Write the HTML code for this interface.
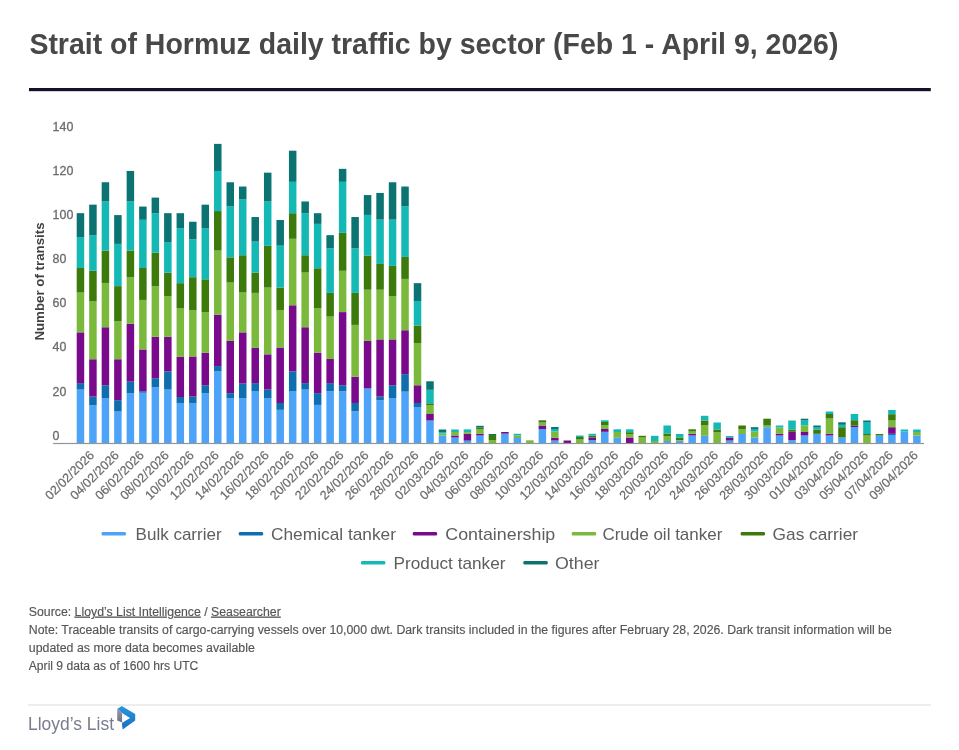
<!DOCTYPE html>
<html><head><meta charset="utf-8"><style>
html,body{margin:0;padding:0;background:#fff;}
body{width:959px;height:750px;position:relative;overflow:hidden;font-family:"Liberation Sans", sans-serif;}
svg{position:absolute;left:0;top:0;will-change:transform;}
text{font-family:"Liberation Sans", sans-serif;}
.title{font-size:29.5px;font-weight:bold;fill:#484848;}
.yl text{font-size:12.4px;fill:#6b6b6b;stroke:#6b6b6b;stroke-width:0.3px;}
.yt{font-size:13.3px;font-weight:bold;fill:#404040;text-anchor:middle;}
.xl text{font-size:12.6px;fill:#6b6b6b;stroke:#6b6b6b;stroke-width:0.2px;text-anchor:end;}
.lg text{font-size:17px;fill:#5e5e5e;}
.nt text{font-size:12px;fill:#555;stroke:#555;stroke-width:0.15px;}
.logo{font-size:19px;fill:#7a7c8e;}
</style></head><body>
<svg width="959" height="750" viewBox="0 0 959 750">
<text class="title" x="29.4" y="54.4" textLength="809" lengthAdjust="spacingAndGlyphs">Strait of Hormuz daily traffic by sector (Feb 1 - April 9, 2026)</text>
<rect x="29" y="88" width="901.8" height="3.2" fill="#12132b"/>
<g><rect x="76.70" y="389.53" width="7.5" height="53.47" fill="#4da3f7"/><rect x="76.70" y="383.13" width="7.5" height="6.40" fill="#0e6eae"/><rect x="76.70" y="332.36" width="7.5" height="50.77" fill="#7a0a8c"/><rect x="76.70" y="292.53" width="7.5" height="39.83" fill="#7bb93c"/><rect x="76.70" y="268.00" width="7.5" height="24.53" fill="#3b7a0b"/><rect x="76.70" y="237.07" width="7.5" height="30.93" fill="#14b9b5"/><rect x="76.70" y="213.17" width="7.5" height="23.89" fill="#0c7373"/><rect x="89.18" y="405.11" width="7.5" height="37.89" fill="#4da3f7"/><rect x="89.18" y="396.57" width="7.5" height="8.53" fill="#0e6eae"/><rect x="89.18" y="359.24" width="7.5" height="37.33" fill="#7a0a8c"/><rect x="89.18" y="301.43" width="7.5" height="57.81" fill="#7bb93c"/><rect x="89.18" y="270.77" width="7.5" height="30.65" fill="#3b7a0b"/><rect x="89.18" y="235.36" width="7.5" height="35.41" fill="#14b9b5"/><rect x="89.18" y="204.64" width="7.5" height="30.72" fill="#0c7373"/><rect x="101.67" y="398.07" width="7.5" height="44.93" fill="#4da3f7"/><rect x="101.67" y="385.27" width="7.5" height="12.80" fill="#0e6eae"/><rect x="101.67" y="327.24" width="7.5" height="58.03" fill="#7a0a8c"/><rect x="101.67" y="282.93" width="7.5" height="44.31" fill="#7bb93c"/><rect x="101.67" y="250.51" width="7.5" height="32.43" fill="#3b7a0b"/><rect x="101.67" y="201.44" width="7.5" height="49.07" fill="#14b9b5"/><rect x="101.67" y="182.24" width="7.5" height="19.20" fill="#0c7373"/><rect x="114.15" y="411.51" width="7.5" height="31.49" fill="#4da3f7"/><rect x="114.15" y="400.20" width="7.5" height="11.31" fill="#0e6eae"/><rect x="114.15" y="359.24" width="7.5" height="40.96" fill="#7a0a8c"/><rect x="114.15" y="321.27" width="7.5" height="37.97" fill="#7bb93c"/><rect x="114.15" y="286.13" width="7.5" height="35.13" fill="#3b7a0b"/><rect x="114.15" y="243.89" width="7.5" height="42.24" fill="#14b9b5"/><rect x="114.15" y="215.09" width="7.5" height="28.80" fill="#0c7373"/><rect x="126.64" y="393.16" width="7.5" height="49.84" fill="#4da3f7"/><rect x="126.64" y="381.64" width="7.5" height="11.52" fill="#0e6eae"/><rect x="126.64" y="323.83" width="7.5" height="57.81" fill="#7a0a8c"/><rect x="126.64" y="277.17" width="7.5" height="46.65" fill="#7bb93c"/><rect x="126.64" y="250.51" width="7.5" height="26.67" fill="#3b7a0b"/><rect x="126.64" y="201.44" width="7.5" height="49.07" fill="#14b9b5"/><rect x="126.64" y="170.93" width="7.5" height="30.51" fill="#0c7373"/><rect x="139.12" y="392.73" width="7.5" height="50.27" fill="#4da3f7"/><rect x="139.12" y="391.24" width="7.5" height="1.49" fill="#0e6eae"/><rect x="139.12" y="349.43" width="7.5" height="41.81" fill="#7a0a8c"/><rect x="139.12" y="299.93" width="7.5" height="49.49" fill="#7bb93c"/><rect x="139.12" y="268.00" width="7.5" height="31.93" fill="#3b7a0b"/><rect x="139.12" y="219.79" width="7.5" height="48.21" fill="#14b9b5"/><rect x="139.12" y="206.56" width="7.5" height="13.23" fill="#0c7373"/><rect x="151.60" y="387.40" width="7.5" height="55.60" fill="#4da3f7"/><rect x="151.60" y="378.23" width="7.5" height="9.17" fill="#0e6eae"/><rect x="151.60" y="336.84" width="7.5" height="41.39" fill="#7a0a8c"/><rect x="151.60" y="286.13" width="7.5" height="50.71" fill="#7bb93c"/><rect x="151.60" y="252.64" width="7.5" height="33.49" fill="#3b7a0b"/><rect x="151.60" y="213.17" width="7.5" height="39.47" fill="#14b9b5"/><rect x="151.60" y="197.60" width="7.5" height="15.57" fill="#0c7373"/><rect x="164.09" y="389.53" width="7.5" height="53.47" fill="#4da3f7"/><rect x="164.09" y="371.40" width="7.5" height="18.13" fill="#0e6eae"/><rect x="164.09" y="336.84" width="7.5" height="34.56" fill="#7a0a8c"/><rect x="164.09" y="296.09" width="7.5" height="40.75" fill="#7bb93c"/><rect x="164.09" y="272.69" width="7.5" height="23.40" fill="#3b7a0b"/><rect x="164.09" y="241.97" width="7.5" height="30.72" fill="#14b9b5"/><rect x="164.09" y="213.17" width="7.5" height="28.80" fill="#0c7373"/><rect x="176.57" y="402.97" width="7.5" height="40.03" fill="#4da3f7"/><rect x="176.57" y="397.00" width="7.5" height="5.97" fill="#0e6eae"/><rect x="176.57" y="356.89" width="7.5" height="40.11" fill="#7a0a8c"/><rect x="176.57" y="308.04" width="7.5" height="48.85" fill="#7bb93c"/><rect x="176.57" y="283.17" width="7.5" height="24.87" fill="#3b7a0b"/><rect x="176.57" y="228.13" width="7.5" height="55.04" fill="#14b9b5"/><rect x="176.57" y="213.20" width="7.5" height="14.93" fill="#0c7373"/><rect x="189.06" y="402.97" width="7.5" height="40.03" fill="#4da3f7"/><rect x="189.06" y="396.57" width="7.5" height="6.40" fill="#0e6eae"/><rect x="189.06" y="356.47" width="7.5" height="40.11" fill="#7a0a8c"/><rect x="189.06" y="310.17" width="7.5" height="46.29" fill="#7bb93c"/><rect x="189.06" y="277.20" width="7.5" height="32.97" fill="#3b7a0b"/><rect x="189.06" y="239.23" width="7.5" height="37.97" fill="#14b9b5"/><rect x="189.06" y="221.73" width="7.5" height="17.49" fill="#0c7373"/><rect x="201.54" y="393.16" width="7.5" height="49.84" fill="#4da3f7"/><rect x="201.54" y="385.27" width="7.5" height="7.89" fill="#0e6eae"/><rect x="201.54" y="352.84" width="7.5" height="32.43" fill="#7a0a8c"/><rect x="201.54" y="312.09" width="7.5" height="40.75" fill="#7bb93c"/><rect x="201.54" y="279.33" width="7.5" height="32.76" fill="#3b7a0b"/><rect x="201.54" y="228.13" width="7.5" height="51.20" fill="#14b9b5"/><rect x="201.54" y="204.67" width="7.5" height="23.47" fill="#0c7373"/><rect x="214.02" y="371.40" width="7.5" height="71.60" fill="#4da3f7"/><rect x="214.02" y="366.07" width="7.5" height="5.33" fill="#0e6eae"/><rect x="214.02" y="314.87" width="7.5" height="51.20" fill="#7a0a8c"/><rect x="214.02" y="250.53" width="7.5" height="64.33" fill="#7bb93c"/><rect x="214.02" y="211.07" width="7.5" height="39.47" fill="#3b7a0b"/><rect x="214.02" y="170.96" width="7.5" height="40.11" fill="#14b9b5"/><rect x="214.02" y="143.87" width="7.5" height="27.09" fill="#0c7373"/><rect x="226.51" y="398.07" width="7.5" height="44.93" fill="#4da3f7"/><rect x="226.51" y="393.16" width="7.5" height="4.91" fill="#0e6eae"/><rect x="226.51" y="340.89" width="7.5" height="52.27" fill="#7a0a8c"/><rect x="226.51" y="282.53" width="7.5" height="58.36" fill="#7bb93c"/><rect x="226.51" y="257.36" width="7.5" height="25.17" fill="#3b7a0b"/><rect x="226.51" y="206.16" width="7.5" height="51.20" fill="#14b9b5"/><rect x="226.51" y="182.27" width="7.5" height="23.89" fill="#0c7373"/><rect x="238.99" y="398.07" width="7.5" height="44.93" fill="#4da3f7"/><rect x="238.99" y="383.56" width="7.5" height="14.51" fill="#0e6eae"/><rect x="238.99" y="332.36" width="7.5" height="51.20" fill="#7a0a8c"/><rect x="238.99" y="292.47" width="7.5" height="39.89" fill="#7bb93c"/><rect x="238.99" y="255.23" width="7.5" height="37.24" fill="#3b7a0b"/><rect x="238.99" y="199.33" width="7.5" height="55.89" fill="#14b9b5"/><rect x="238.99" y="186.53" width="7.5" height="12.80" fill="#0c7373"/><rect x="251.48" y="391.03" width="7.5" height="51.97" fill="#4da3f7"/><rect x="251.48" y="383.13" width="7.5" height="7.89" fill="#0e6eae"/><rect x="251.48" y="347.93" width="7.5" height="35.20" fill="#7a0a8c"/><rect x="251.48" y="292.89" width="7.5" height="55.04" fill="#7bb93c"/><rect x="251.48" y="272.51" width="7.5" height="20.39" fill="#3b7a0b"/><rect x="251.48" y="241.57" width="7.5" height="30.93" fill="#14b9b5"/><rect x="251.48" y="217.04" width="7.5" height="24.53" fill="#0c7373"/><rect x="263.96" y="398.07" width="7.5" height="44.93" fill="#4da3f7"/><rect x="263.96" y="389.53" width="7.5" height="8.53" fill="#0e6eae"/><rect x="263.96" y="354.33" width="7.5" height="35.20" fill="#7a0a8c"/><rect x="263.96" y="287.56" width="7.5" height="66.77" fill="#7bb93c"/><rect x="263.96" y="245.84" width="7.5" height="41.72" fill="#3b7a0b"/><rect x="263.96" y="201.47" width="7.5" height="44.37" fill="#14b9b5"/><rect x="263.96" y="172.67" width="7.5" height="28.80" fill="#0c7373"/><rect x="276.44" y="409.80" width="7.5" height="33.20" fill="#4da3f7"/><rect x="276.44" y="402.97" width="7.5" height="6.83" fill="#0e6eae"/><rect x="276.44" y="347.51" width="7.5" height="55.47" fill="#7a0a8c"/><rect x="276.44" y="309.96" width="7.5" height="37.55" fill="#7bb93c"/><rect x="276.44" y="287.56" width="7.5" height="22.40" fill="#3b7a0b"/><rect x="276.44" y="245.63" width="7.5" height="41.93" fill="#14b9b5"/><rect x="276.44" y="220.03" width="7.5" height="25.60" fill="#0c7373"/><rect x="288.93" y="391.03" width="7.5" height="51.97" fill="#4da3f7"/><rect x="288.93" y="371.40" width="7.5" height="19.63" fill="#0e6eae"/><rect x="288.93" y="305.27" width="7.5" height="66.13" fill="#7a0a8c"/><rect x="288.93" y="238.80" width="7.5" height="66.47" fill="#7bb93c"/><rect x="288.93" y="213.20" width="7.5" height="25.60" fill="#3b7a0b"/><rect x="288.93" y="181.84" width="7.5" height="31.36" fill="#14b9b5"/><rect x="288.93" y="150.69" width="7.5" height="31.15" fill="#0c7373"/><rect x="301.41" y="389.53" width="7.5" height="53.47" fill="#4da3f7"/><rect x="301.41" y="383.13" width="7.5" height="6.40" fill="#0e6eae"/><rect x="301.41" y="327.24" width="7.5" height="55.89" fill="#7a0a8c"/><rect x="301.41" y="272.51" width="7.5" height="54.73" fill="#7bb93c"/><rect x="301.41" y="255.23" width="7.5" height="17.28" fill="#3b7a0b"/><rect x="301.41" y="213.20" width="7.5" height="42.03" fill="#14b9b5"/><rect x="301.41" y="201.47" width="7.5" height="11.73" fill="#0c7373"/><rect x="313.90" y="404.89" width="7.5" height="38.11" fill="#4da3f7"/><rect x="313.90" y="393.16" width="7.5" height="11.73" fill="#0e6eae"/><rect x="313.90" y="352.63" width="7.5" height="40.53" fill="#7a0a8c"/><rect x="313.90" y="308.04" width="7.5" height="44.59" fill="#7bb93c"/><rect x="313.90" y="268.24" width="7.5" height="39.80" fill="#3b7a0b"/><rect x="313.90" y="223.87" width="7.5" height="44.37" fill="#14b9b5"/><rect x="313.90" y="213.20" width="7.5" height="10.67" fill="#0c7373"/><rect x="326.38" y="391.24" width="7.5" height="51.76" fill="#4da3f7"/><rect x="326.38" y="383.13" width="7.5" height="8.11" fill="#0e6eae"/><rect x="326.38" y="359.03" width="7.5" height="24.11" fill="#7a0a8c"/><rect x="326.38" y="316.57" width="7.5" height="42.45" fill="#7bb93c"/><rect x="326.38" y="292.89" width="7.5" height="23.68" fill="#3b7a0b"/><rect x="326.38" y="248.40" width="7.5" height="44.49" fill="#14b9b5"/><rect x="326.38" y="235.17" width="7.5" height="13.23" fill="#0c7373"/><rect x="338.86" y="391.24" width="7.5" height="51.76" fill="#4da3f7"/><rect x="338.86" y="385.27" width="7.5" height="5.97" fill="#0e6eae"/><rect x="338.86" y="312.09" width="7.5" height="73.17" fill="#7a0a8c"/><rect x="338.86" y="270.80" width="7.5" height="41.29" fill="#7bb93c"/><rect x="338.86" y="232.83" width="7.5" height="37.97" fill="#3b7a0b"/><rect x="338.86" y="181.84" width="7.5" height="50.99" fill="#14b9b5"/><rect x="338.86" y="168.83" width="7.5" height="13.01" fill="#0c7373"/><rect x="351.35" y="411.29" width="7.5" height="31.71" fill="#4da3f7"/><rect x="351.35" y="402.97" width="7.5" height="8.32" fill="#0e6eae"/><rect x="351.35" y="376.73" width="7.5" height="26.24" fill="#7a0a8c"/><rect x="351.35" y="324.89" width="7.5" height="51.84" fill="#7bb93c"/><rect x="351.35" y="292.89" width="7.5" height="32.00" fill="#3b7a0b"/><rect x="351.35" y="248.40" width="7.5" height="44.49" fill="#14b9b5"/><rect x="351.35" y="217.04" width="7.5" height="31.36" fill="#0c7373"/><rect x="363.83" y="388.47" width="7.5" height="54.53" fill="#4da3f7"/><rect x="363.83" y="340.89" width="7.5" height="47.57" fill="#7a0a8c"/><rect x="363.83" y="289.69" width="7.5" height="51.20" fill="#7bb93c"/><rect x="363.83" y="255.44" width="7.5" height="34.25" fill="#3b7a0b"/><rect x="363.83" y="214.91" width="7.5" height="40.53" fill="#14b9b5"/><rect x="363.83" y="195.07" width="7.5" height="19.84" fill="#0c7373"/><rect x="376.32" y="400.20" width="7.5" height="42.80" fill="#4da3f7"/><rect x="376.32" y="396.57" width="7.5" height="3.63" fill="#0e6eae"/><rect x="376.32" y="339.40" width="7.5" height="57.17" fill="#7a0a8c"/><rect x="376.32" y="289.69" width="7.5" height="49.71" fill="#7bb93c"/><rect x="376.32" y="263.97" width="7.5" height="25.72" fill="#3b7a0b"/><rect x="376.32" y="219.60" width="7.5" height="44.37" fill="#14b9b5"/><rect x="376.32" y="192.93" width="7.5" height="26.67" fill="#0c7373"/><rect x="388.80" y="398.07" width="7.5" height="44.93" fill="#4da3f7"/><rect x="388.80" y="385.27" width="7.5" height="12.80" fill="#0e6eae"/><rect x="388.80" y="339.40" width="7.5" height="45.87" fill="#7a0a8c"/><rect x="388.80" y="296.09" width="7.5" height="43.31" fill="#7bb93c"/><rect x="388.80" y="265.89" width="7.5" height="30.20" fill="#3b7a0b"/><rect x="388.80" y="219.60" width="7.5" height="46.29" fill="#14b9b5"/><rect x="388.80" y="182.27" width="7.5" height="37.33" fill="#0c7373"/><rect x="401.28" y="391.67" width="7.5" height="51.33" fill="#4da3f7"/><rect x="401.28" y="374.17" width="7.5" height="17.49" fill="#0e6eae"/><rect x="401.28" y="330.23" width="7.5" height="43.95" fill="#7a0a8c"/><rect x="401.28" y="278.91" width="7.5" height="51.32" fill="#7bb93c"/><rect x="401.28" y="256.93" width="7.5" height="21.97" fill="#3b7a0b"/><rect x="401.28" y="206.16" width="7.5" height="50.77" fill="#14b9b5"/><rect x="401.28" y="186.53" width="7.5" height="19.63" fill="#0c7373"/><rect x="413.77" y="407.03" width="7.5" height="35.97" fill="#4da3f7"/><rect x="413.77" y="402.97" width="7.5" height="4.05" fill="#0e6eae"/><rect x="413.77" y="385.27" width="7.5" height="17.71" fill="#7a0a8c"/><rect x="413.77" y="343.03" width="7.5" height="42.24" fill="#7bb93c"/><rect x="413.77" y="325.53" width="7.5" height="17.49" fill="#3b7a0b"/><rect x="413.77" y="301.00" width="7.5" height="24.53" fill="#14b9b5"/><rect x="413.77" y="283.17" width="7.5" height="17.83" fill="#0c7373"/><rect x="426.25" y="420.50" width="7.5" height="22.50" fill="#4da3f7"/><rect x="426.25" y="414.00" width="7.5" height="6.50" fill="#7a0a8c"/><rect x="426.25" y="405.00" width="7.5" height="9.00" fill="#7bb93c"/><rect x="426.25" y="403.30" width="7.5" height="1.70" fill="#3b7a0b"/><rect x="426.25" y="389.80" width="7.5" height="13.50" fill="#14b9b5"/><rect x="426.25" y="381.30" width="7.5" height="8.50" fill="#0c7373"/><rect x="438.74" y="435.50" width="7.5" height="7.50" fill="#4da3f7"/><rect x="438.74" y="433.50" width="7.5" height="2.00" fill="#7bb93c"/><rect x="438.74" y="432.00" width="7.5" height="1.50" fill="#14b9b5"/><rect x="438.74" y="429.50" width="7.5" height="2.50" fill="#0c7373"/><rect x="451.22" y="437.50" width="7.5" height="5.50" fill="#4da3f7"/><rect x="451.22" y="435.50" width="7.5" height="2.00" fill="#7a0a8c"/><rect x="451.22" y="432.00" width="7.5" height="3.50" fill="#7bb93c"/><rect x="451.22" y="429.50" width="7.5" height="2.50" fill="#14b9b5"/><rect x="463.70" y="441.00" width="7.5" height="2.00" fill="#4da3f7"/><rect x="463.70" y="440.30" width="7.5" height="0.70" fill="#0e6eae"/><rect x="463.70" y="433.90" width="7.5" height="6.40" fill="#7a0a8c"/><rect x="463.70" y="432.10" width="7.5" height="1.80" fill="#7bb93c"/><rect x="463.70" y="429.40" width="7.5" height="2.70" fill="#14b9b5"/><rect x="476.19" y="435.50" width="7.5" height="7.50" fill="#4da3f7"/><rect x="476.19" y="433.80" width="7.5" height="1.70" fill="#7a0a8c"/><rect x="476.19" y="429.00" width="7.5" height="4.80" fill="#7bb93c"/><rect x="476.19" y="427.50" width="7.5" height="1.50" fill="#3b7a0b"/><rect x="476.19" y="425.80" width="7.5" height="1.70" fill="#0c7373"/><rect x="488.67" y="440.00" width="7.5" height="3.00" fill="#7bb93c"/><rect x="488.67" y="435.00" width="7.5" height="5.00" fill="#3b7a0b"/><rect x="488.67" y="434.00" width="7.5" height="1.00" fill="#0c7373"/><rect x="501.16" y="434.50" width="7.5" height="8.50" fill="#4da3f7"/><rect x="501.16" y="433.50" width="7.5" height="1.00" fill="#0e6eae"/><rect x="501.16" y="432.00" width="7.5" height="1.50" fill="#7a0a8c"/><rect x="513.64" y="438.00" width="7.5" height="5.00" fill="#4da3f7"/><rect x="513.64" y="435.50" width="7.5" height="2.50" fill="#7bb93c"/><rect x="513.64" y="433.80" width="7.5" height="1.70" fill="#14b9b5"/><rect x="526.12" y="440.30" width="7.5" height="2.70" fill="#7bb93c"/><rect x="538.61" y="429.00" width="7.5" height="14.00" fill="#4da3f7"/><rect x="538.61" y="425.50" width="7.5" height="3.50" fill="#7a0a8c"/><rect x="538.61" y="422.50" width="7.5" height="3.00" fill="#7bb93c"/><rect x="538.61" y="420.30" width="7.5" height="2.20" fill="#3b7a0b"/><rect x="551.09" y="440.50" width="7.5" height="2.50" fill="#4da3f7"/><rect x="551.09" y="437.80" width="7.5" height="2.70" fill="#7a0a8c"/><rect x="551.09" y="431.50" width="7.5" height="6.30" fill="#7bb93c"/><rect x="551.09" y="429.00" width="7.5" height="2.50" fill="#14b9b5"/><rect x="551.09" y="427.00" width="7.5" height="2.00" fill="#0c7373"/><rect x="563.58" y="440.50" width="7.5" height="2.50" fill="#7a0a8c"/><rect x="576.06" y="439.50" width="7.5" height="3.50" fill="#7bb93c"/><rect x="576.06" y="437.00" width="7.5" height="2.50" fill="#3b7a0b"/><rect x="576.06" y="435.50" width="7.5" height="1.50" fill="#14b9b5"/><rect x="588.54" y="440.00" width="7.5" height="3.00" fill="#4da3f7"/><rect x="588.54" y="437.50" width="7.5" height="2.50" fill="#7a0a8c"/><rect x="588.54" y="435.50" width="7.5" height="2.00" fill="#3b7a0b"/><rect x="588.54" y="433.80" width="7.5" height="1.70" fill="#14b9b5"/><rect x="601.03" y="431.80" width="7.5" height="11.20" fill="#4da3f7"/><rect x="601.03" y="429.00" width="7.5" height="2.80" fill="#7a0a8c"/><rect x="601.03" y="425.00" width="7.5" height="4.00" fill="#7bb93c"/><rect x="601.03" y="422.00" width="7.5" height="3.00" fill="#3b7a0b"/><rect x="601.03" y="420.30" width="7.5" height="1.70" fill="#14b9b5"/><rect x="613.51" y="437.80" width="7.5" height="5.20" fill="#4da3f7"/><rect x="613.51" y="432.00" width="7.5" height="5.80" fill="#7bb93c"/><rect x="613.51" y="429.30" width="7.5" height="2.70" fill="#14b9b5"/><rect x="626.00" y="437.50" width="7.5" height="5.50" fill="#7a0a8c"/><rect x="626.00" y="434.00" width="7.5" height="3.50" fill="#7bb93c"/><rect x="626.00" y="432.20" width="7.5" height="1.80" fill="#3b7a0b"/><rect x="626.00" y="429.30" width="7.5" height="2.90" fill="#14b9b5"/><rect x="638.48" y="437.50" width="7.5" height="5.50" fill="#7bb93c"/><rect x="638.48" y="435.80" width="7.5" height="1.70" fill="#3b7a0b"/><rect x="650.96" y="441.00" width="7.5" height="2.00" fill="#7bb93c"/><rect x="650.96" y="435.80" width="7.5" height="5.20" fill="#14b9b5"/><rect x="663.45" y="441.00" width="7.5" height="2.00" fill="#4da3f7"/><rect x="663.45" y="436.00" width="7.5" height="5.00" fill="#7bb93c"/><rect x="663.45" y="433.50" width="7.5" height="2.50" fill="#3b7a0b"/><rect x="663.45" y="425.50" width="7.5" height="8.00" fill="#14b9b5"/><rect x="675.93" y="440.80" width="7.5" height="2.20" fill="#4da3f7"/><rect x="675.93" y="440.00" width="7.5" height="0.80" fill="#7bb93c"/><rect x="675.93" y="437.50" width="7.5" height="2.50" fill="#3b7a0b"/><rect x="675.93" y="434.00" width="7.5" height="3.50" fill="#14b9b5"/><rect x="688.42" y="435.50" width="7.5" height="7.50" fill="#4da3f7"/><rect x="688.42" y="433.80" width="7.5" height="1.70" fill="#7a0a8c"/><rect x="688.42" y="431.50" width="7.5" height="2.30" fill="#7bb93c"/><rect x="688.42" y="429.30" width="7.5" height="2.20" fill="#3b7a0b"/><rect x="700.90" y="435.80" width="7.5" height="7.20" fill="#4da3f7"/><rect x="700.90" y="425.00" width="7.5" height="10.80" fill="#7bb93c"/><rect x="700.90" y="420.50" width="7.5" height="4.50" fill="#3b7a0b"/><rect x="700.90" y="415.80" width="7.5" height="4.70" fill="#14b9b5"/><rect x="713.38" y="432.00" width="7.5" height="11.00" fill="#7bb93c"/><rect x="713.38" y="429.50" width="7.5" height="2.50" fill="#3b7a0b"/><rect x="713.38" y="422.50" width="7.5" height="7.00" fill="#14b9b5"/><rect x="725.87" y="440.50" width="7.5" height="2.50" fill="#4da3f7"/><rect x="725.87" y="437.50" width="7.5" height="3.00" fill="#7a0a8c"/><rect x="725.87" y="436.00" width="7.5" height="1.50" fill="#14b9b5"/><rect x="738.35" y="434.00" width="7.5" height="9.00" fill="#4da3f7"/><rect x="738.35" y="429.00" width="7.5" height="5.00" fill="#7bb93c"/><rect x="738.35" y="425.50" width="7.5" height="3.50" fill="#3b7a0b"/><rect x="750.84" y="437.50" width="7.5" height="5.50" fill="#4da3f7"/><rect x="750.84" y="431.50" width="7.5" height="6.00" fill="#7bb93c"/><rect x="750.84" y="429.00" width="7.5" height="2.50" fill="#14b9b5"/><rect x="750.84" y="427.20" width="7.5" height="1.80" fill="#0c7373"/><rect x="763.32" y="427.20" width="7.5" height="15.80" fill="#4da3f7"/><rect x="763.32" y="425.50" width="7.5" height="1.70" fill="#7bb93c"/><rect x="763.32" y="418.70" width="7.5" height="6.80" fill="#3b7a0b"/><rect x="775.80" y="435.50" width="7.5" height="7.50" fill="#4da3f7"/><rect x="775.80" y="433.80" width="7.5" height="1.70" fill="#7a0a8c"/><rect x="775.80" y="427.50" width="7.5" height="6.30" fill="#7bb93c"/><rect x="775.80" y="425.50" width="7.5" height="2.00" fill="#14b9b5"/><rect x="788.29" y="440.00" width="7.5" height="3.00" fill="#4da3f7"/><rect x="788.29" y="431.80" width="7.5" height="8.20" fill="#7a0a8c"/><rect x="788.29" y="429.50" width="7.5" height="2.30" fill="#3b7a0b"/><rect x="788.29" y="420.50" width="7.5" height="9.00" fill="#14b9b5"/><rect x="800.77" y="435.50" width="7.5" height="7.50" fill="#4da3f7"/><rect x="800.77" y="432.00" width="7.5" height="3.50" fill="#7a0a8c"/><rect x="800.77" y="425.50" width="7.5" height="6.50" fill="#7bb93c"/><rect x="800.77" y="420.50" width="7.5" height="5.00" fill="#14b9b5"/><rect x="800.77" y="418.70" width="7.5" height="1.80" fill="#0c7373"/><rect x="813.26" y="433.80" width="7.5" height="9.20" fill="#4da3f7"/><rect x="813.26" y="429.50" width="7.5" height="4.30" fill="#3b7a0b"/><rect x="813.26" y="427.00" width="7.5" height="2.50" fill="#14b9b5"/><rect x="813.26" y="425.50" width="7.5" height="1.50" fill="#0c7373"/><rect x="825.74" y="435.50" width="7.5" height="7.50" fill="#4da3f7"/><rect x="825.74" y="433.80" width="7.5" height="1.70" fill="#7a0a8c"/><rect x="825.74" y="418.50" width="7.5" height="15.30" fill="#7bb93c"/><rect x="825.74" y="414.00" width="7.5" height="4.50" fill="#3b7a0b"/><rect x="825.74" y="411.50" width="7.5" height="2.50" fill="#14b9b5"/><rect x="838.22" y="437.50" width="7.5" height="5.50" fill="#4da3f7"/><rect x="838.22" y="427.20" width="7.5" height="10.30" fill="#3b7a0b"/><rect x="838.22" y="424.80" width="7.5" height="2.40" fill="#14b9b5"/><rect x="838.22" y="422.30" width="7.5" height="2.50" fill="#0c7373"/><rect x="850.71" y="427.00" width="7.5" height="16.00" fill="#4da3f7"/><rect x="850.71" y="425.50" width="7.5" height="1.50" fill="#7a0a8c"/><rect x="850.71" y="420.20" width="7.5" height="5.30" fill="#3b7a0b"/><rect x="850.71" y="414.00" width="7.5" height="6.20" fill="#14b9b5"/><rect x="863.19" y="435.50" width="7.5" height="7.50" fill="#7bb93c"/><rect x="863.19" y="434.00" width="7.5" height="1.50" fill="#3b7a0b"/><rect x="863.19" y="422.00" width="7.5" height="12.00" fill="#14b9b5"/><rect x="863.19" y="420.50" width="7.5" height="1.50" fill="#0c7373"/><rect x="875.68" y="435.50" width="7.5" height="7.50" fill="#4da3f7"/><rect x="875.68" y="434.00" width="7.5" height="1.50" fill="#3b7a0b"/><rect x="888.16" y="435.00" width="7.5" height="8.00" fill="#4da3f7"/><rect x="888.16" y="433.80" width="7.5" height="1.20" fill="#0e6eae"/><rect x="888.16" y="427.20" width="7.5" height="6.60" fill="#7a0a8c"/><rect x="888.16" y="420.50" width="7.5" height="6.70" fill="#7bb93c"/><rect x="888.16" y="414.20" width="7.5" height="6.30" fill="#3b7a0b"/><rect x="888.16" y="410.00" width="7.5" height="4.20" fill="#14b9b5"/><rect x="900.64" y="431.50" width="7.5" height="11.50" fill="#4da3f7"/><rect x="900.64" y="429.50" width="7.5" height="2.00" fill="#14b9b5"/><rect x="913.13" y="435.50" width="7.5" height="7.50" fill="#4da3f7"/><rect x="913.13" y="432.00" width="7.5" height="3.50" fill="#7bb93c"/><rect x="913.13" y="429.50" width="7.5" height="2.50" fill="#14b9b5"/></g>
<rect x="53" y="442.9" width="871" height="1.2" fill="#959595"/>
<g class="yl"><text x="52.6" y="439.6">0</text><text x="52.6" y="395.5">20</text><text x="52.6" y="351.4">40</text><text x="52.6" y="307.4">60</text><text x="52.6" y="263.3">80</text><text x="52.6" y="219.2">100</text><text x="52.6" y="175.1">120</text><text x="52.6" y="131.0">140</text></g>
<text class="yt" transform="translate(44,281.5) rotate(-90)">Number of transits</text>
<g class="xl"><text transform="translate(94.83,456.0) rotate(-45)">02/02/2026</text><text transform="translate(119.80,456.0) rotate(-45)">04/02/2026</text><text transform="translate(144.77,456.0) rotate(-45)">06/02/2026</text><text transform="translate(169.74,456.0) rotate(-45)">08/02/2026</text><text transform="translate(194.71,456.0) rotate(-45)">10/02/2026</text><text transform="translate(219.67,456.0) rotate(-45)">12/02/2026</text><text transform="translate(244.64,456.0) rotate(-45)">14/02/2026</text><text transform="translate(269.61,456.0) rotate(-45)">16/02/2026</text><text transform="translate(294.58,456.0) rotate(-45)">18/02/2026</text><text transform="translate(319.55,456.0) rotate(-45)">20/02/2026</text><text transform="translate(344.51,456.0) rotate(-45)">22/02/2026</text><text transform="translate(369.48,456.0) rotate(-45)">24/02/2026</text><text transform="translate(394.45,456.0) rotate(-45)">26/02/2026</text><text transform="translate(419.42,456.0) rotate(-45)">28/02/2026</text><text transform="translate(444.39,456.0) rotate(-45)">02/03/2026</text><text transform="translate(469.35,456.0) rotate(-45)">04/03/2026</text><text transform="translate(494.32,456.0) rotate(-45)">06/03/2026</text><text transform="translate(519.29,456.0) rotate(-45)">08/03/2026</text><text transform="translate(544.26,456.0) rotate(-45)">10/03/2026</text><text transform="translate(569.23,456.0) rotate(-45)">12/03/2026</text><text transform="translate(594.19,456.0) rotate(-45)">14/03/2026</text><text transform="translate(619.16,456.0) rotate(-45)">16/03/2026</text><text transform="translate(644.13,456.0) rotate(-45)">18/03/2026</text><text transform="translate(669.10,456.0) rotate(-45)">20/03/2026</text><text transform="translate(694.07,456.0) rotate(-45)">22/03/2026</text><text transform="translate(719.03,456.0) rotate(-45)">24/03/2026</text><text transform="translate(744.00,456.0) rotate(-45)">26/03/2026</text><text transform="translate(768.97,456.0) rotate(-45)">28/03/2026</text><text transform="translate(793.94,456.0) rotate(-45)">30/03/2026</text><text transform="translate(818.91,456.0) rotate(-45)">01/04/2026</text><text transform="translate(843.87,456.0) rotate(-45)">03/04/2026</text><text transform="translate(868.84,456.0) rotate(-45)">05/04/2026</text><text transform="translate(893.81,456.0) rotate(-45)">07/04/2026</text><text transform="translate(918.78,456.0) rotate(-45)">09/04/2026</text></g>
<g class="lg"><rect x="101.6" y="531.95" width="24.3" height="3.5" rx="1.2" fill="#4da3f7"/><text x="135.6" y="539.7" textLength="86.0" lengthAdjust="spacingAndGlyphs">Bulk carrier</text><rect x="238.8" y="531.95" width="24.3" height="3.5" rx="1.2" fill="#0e6eae"/><text x="271.0" y="539.7" textLength="125.0" lengthAdjust="spacingAndGlyphs">Chemical tanker</text><rect x="412.8" y="531.95" width="24.3" height="3.5" rx="1.2" fill="#7a0a8c"/><text x="445.3" y="539.7" textLength="110.0" lengthAdjust="spacingAndGlyphs">Containership</text><rect x="571.8" y="531.95" width="24.3" height="3.5" rx="1.2" fill="#7bb93c"/><text x="602.4" y="539.7" textLength="120.0" lengthAdjust="spacingAndGlyphs">Crude oil tanker</text><rect x="740.7" y="531.95" width="24.3" height="3.5" rx="1.2" fill="#3b7a0b"/><text x="772.6" y="539.7" textLength="85.5" lengthAdjust="spacingAndGlyphs">Gas carrier</text><rect x="361.0" y="560.95" width="24.3" height="3.5" rx="1.2" fill="#14b9b5"/><text x="393.5" y="569.4" textLength="112.0" lengthAdjust="spacingAndGlyphs">Product tanker</text><rect x="523.4" y="560.95" width="24.3" height="3.5" rx="1.2" fill="#0c7373"/><text x="555.0" y="569.4" textLength="44.5" lengthAdjust="spacingAndGlyphs">Other</text></g>
<g class="nt"><text x="28.8" y="615.6" textLength="252" lengthAdjust="spacingAndGlyphs">Source: <tspan text-decoration="underline">Lloyd’s List Intelligence</tspan> / <tspan text-decoration="underline">Seasearcher</tspan></text><text x="28.8" y="633.7" textLength="863" lengthAdjust="spacingAndGlyphs">Note: Traceable transits of cargo-carrying vessels over 10,000 dwt. Dark transits included in the figures after February 28, 2026. Dark transit information will be</text><text x="28.8" y="651.9" textLength="226" lengthAdjust="spacingAndGlyphs">updated as more data becomes available</text><text x="28.8" y="670.1" textLength="169.5" lengthAdjust="spacingAndGlyphs">April 9 data as of 1600 hrs UTC</text></g>
<rect x="28" y="704.5" width="903" height="1" fill="#dcdcdc"/>
<text class="logo" x="28" y="730" textLength="86" lengthAdjust="spacingAndGlyphs">Lloyd’s List</text>
<defs><linearGradient id="lg1" x1="0" y1="0" x2="0" y2="1"><stop offset="0" stop-color="#2b95dc"/><stop offset="1" stop-color="#1472c4"/></linearGradient><linearGradient id="lg2" x1="0" y1="0" x2="0" y2="1"><stop offset="0" stop-color="#9a9cab"/><stop offset="1" stop-color="#6d6f80"/></linearGradient></defs>
<path d="M117.2 708.9 L121.7 706.1 L135.2 714 L135.2 720.5 L122.6 729.4 L121.9 722.9 L130 718 L122.1 713 Z" fill="url(#lg1)"/>
<path d="M117.2 708.9 L122.1 713 L122.1 722.6 L117.2 720.5 Z" fill="url(#lg2)"/>
</svg>
</body></html>
